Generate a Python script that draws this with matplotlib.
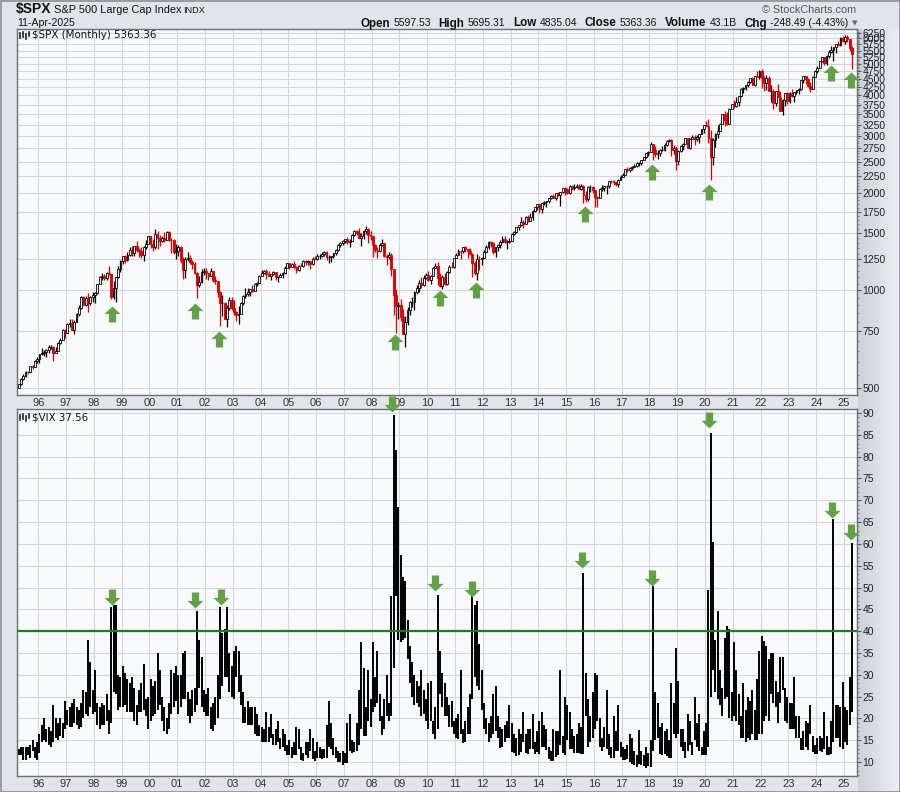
import numpy as np
import pandas as pd
import matplotlib
matplotlib.use("Agg")
import matplotlib.pyplot as plt
from matplotlib.path import Path
from matplotlib.lines import Line2D
from matplotlib.patches import Rectangle
from matplotlib.colors import to_rgb
from matplotlib.ticker import FixedLocator, NullFormatter, FixedFormatter

plt.rcParams["font.family"] = ["Liberation Sans", "DejaVu Sans"]

# ---------------- DATA ----------------
months = pd.period_range("1995-04", "2025-04", freq="M")

spx_first_open = 500.7
spx_close = [
    514.7, 533.4, 544.8, 562.1, 561.9, 584.4, 581.5, 605.4, 615.9,
    636.0, 640.4, 645.5, 654.2, 669.1, 670.6, 639.9, 652.0, 687.3, 705.3, 757.0, 740.7,
    786.2, 790.8, 757.1, 801.3, 848.3, 885.1, 954.3, 899.5, 947.3, 914.6, 955.4, 970.4,
    980.3, 1049.3, 1101.8, 1111.8, 1090.8, 1133.8, 1120.7, 957.3, 1017.0, 1098.7, 1163.6, 1229.2,
    1279.6, 1238.3, 1286.4, 1335.2, 1301.8, 1372.7, 1328.7, 1320.4, 1282.7, 1362.9, 1388.9, 1469.3,
    1394.5, 1366.4, 1498.6, 1452.4, 1420.6, 1454.6, 1430.8, 1517.7, 1436.5, 1429.4, 1315.2, 1320.3,
    1366.0, 1239.9, 1160.3, 1249.5, 1255.8, 1224.4, 1211.2, 1133.6, 1040.9, 1059.8, 1139.5, 1148.1,
    1130.2, 1106.7, 1147.4, 1076.9, 1067.1, 989.8, 911.6, 916.1, 815.3, 885.8, 936.3, 879.8,
    855.7, 841.2, 848.2, 916.9, 963.6, 974.5, 990.3, 1008.0, 996.0, 1050.7, 1058.2, 1111.9,
    1131.1, 1144.9, 1126.2, 1107.3, 1120.7, 1140.8, 1101.7, 1104.2, 1114.6, 1130.2, 1173.8, 1211.9,
    1181.3, 1203.6, 1180.6, 1156.9, 1191.5, 1191.3, 1234.2, 1220.3, 1228.8, 1207.0, 1249.5, 1248.3,
    1280.1, 1280.7, 1294.9, 1310.6, 1270.1, 1270.2, 1276.7, 1303.8, 1335.9, 1377.9, 1400.6, 1418.3,
    1438.2, 1406.8, 1420.9, 1482.4, 1530.6, 1503.4, 1455.3, 1474.0, 1526.8, 1549.4, 1481.1, 1468.4,
    1378.6, 1330.6, 1322.7, 1385.6, 1400.4, 1280.0, 1267.4, 1282.8, 1166.4, 968.8, 896.2, 903.3,
    825.9, 735.1, 797.9, 872.8, 919.1, 919.3, 987.5, 1020.6, 1057.1, 1036.2, 1095.6, 1115.1,
    1073.9, 1104.5, 1169.4, 1186.7, 1089.4, 1030.7, 1101.6, 1049.3, 1141.2, 1183.3, 1180.6, 1257.6,
    1286.1, 1327.2, 1325.8, 1363.6, 1345.2, 1320.6, 1292.3, 1219.0, 1131.4, 1253.3, 1247.0, 1257.6,
    1312.4, 1365.7, 1408.5, 1397.9, 1310.3, 1362.2, 1379.3, 1406.6, 1440.7, 1412.2, 1416.2, 1426.2,
    1498.1, 1514.7, 1569.2, 1597.6, 1630.7, 1606.3, 1685.7, 1633.0, 1681.6, 1756.5, 1805.8, 1848.4,
    1782.6, 1859.5, 1872.3, 1883.9, 1923.6, 1960.2, 1930.7, 2003.4, 1972.3, 2018.1, 2067.6, 2058.9,
    1995.0, 2104.5, 2067.9, 2085.5, 2107.4, 2063.1, 2103.8, 1972.2, 1920.0, 2079.4, 2080.4, 2043.9,
    1940.2, 1932.2, 2059.7, 2065.3, 2096.9, 2098.9, 2173.6, 2171.0, 2168.3, 2126.2, 2199.0, 2238.8,
    2278.9, 2363.6, 2362.7, 2384.2, 2411.8, 2423.4, 2470.3, 2471.7, 2519.4, 2575.3, 2647.6, 2673.6,
    2823.8, 2713.8, 2640.9, 2648.1, 2705.3, 2718.4, 2816.3, 2901.5, 2914.0, 2711.7, 2760.2, 2506.9,
    2704.1, 2784.5, 2834.4, 2945.8, 2752.1, 2941.8, 2980.4, 2926.5, 2976.7, 3037.6, 3141.0, 3230.8,
    3225.5, 2954.2, 2584.6, 2912.4, 3044.3, 3100.3, 3271.1, 3500.3, 3363.0, 3270.0, 3621.6, 3756.1,
    3714.2, 3811.2, 3972.9, 4181.2, 4204.1, 4297.5, 4395.3, 4522.7, 4307.5, 4605.4, 4567.0, 4766.2,
    4515.6, 4373.9, 4530.4, 4131.9, 4132.2, 3785.4, 4130.3, 3955.0, 3585.6, 3872.0, 4080.1, 3839.5,
    4076.6, 3970.2, 4109.3, 4169.5, 4179.8, 4450.4, 4589.0, 4507.7, 4288.1, 4193.8, 4567.8, 4769.8,
    4845.7, 5096.3, 5254.4, 5035.7, 5277.5, 5460.5, 5522.3, 5648.4, 5762.5, 5705.5, 6032.4, 5881.6,
    6040.5, 5954.5, 5611.9, 5363.36,
]
spx_high = [
    515.5, 535.0, 551.1, 563.8, 565.6, 586.3, 587.4, 608.0, 622.9,
    638.5, 664.2, 656.7, 657.9, 678.5, 680.3, 672.7, 671.0, 690.9, 714.1, 762.3, 761.8,
    794.7, 817.7, 815.0, 812.9, 851.9, 898.7, 961.6, 960.3, 961.0, 983.1, 964.6, 986.3,
    987.0, 1050.1, 1105.7, 1130.5, 1124.0, 1138.7, 1190.6, 1121.2, 1066.1, 1103.8, 1193.2, 1244.9,
    1280.4, 1283.3, 1316.6, 1362.8, 1375.9, 1375.0, 1420.3, 1353.0, 1361.0, 1373.2, 1427.1, 1473.1,
    1478.0, 1445.6, 1552.9, 1527.2, 1481.5, 1474.6, 1517.3, 1525.2, 1530.1, 1448.1, 1438.5, 1389.9,
    1383.4, 1376.4, 1268.0, 1269.3, 1316.0, 1286.6, 1239.8, 1220.2, 1144.0, 1110.6, 1163.4, 1173.0,
    1176.6, 1130.2, 1173.0, 1147.8, 1106.6, 1070.7, 994.5, 965.0, 924.0, 900.1, 954.3, 954.3,
    935.1, 864.6, 895.9, 924.2, 965.4, 1015.3, 1015.4, 1011.0, 1040.3, 1053.8, 1063.7, 1112.6,
    1155.4, 1159.0, 1163.2, 1150.6, 1122.7, 1146.2, 1140.8, 1109.7, 1131.5, 1142.1, 1188.5, 1217.3,
    1217.9, 1212.4, 1229.1, 1191.9, 1199.6, 1219.6, 1245.2, 1245.9, 1243.1, 1233.3, 1270.6, 1275.8,
    1294.9, 1297.6, 1310.9, 1326.7, 1326.7, 1284.7, 1280.7, 1306.7, 1340.3, 1389.5, 1407.9, 1431.8,
    1441.6, 1461.6, 1438.9, 1498.0, 1535.6, 1540.6, 1555.9, 1503.9, 1538.7, 1576.1, 1555.1, 1523.6,
    1471.8, 1396.0, 1359.7, 1397.0, 1440.2, 1404.1, 1292.2, 1313.2, 1303.0, 1167.0, 1007.5, 918.9,
    943.9, 875.0, 833.0, 888.7, 930.2, 956.2, 996.7, 1039.5, 1080.2, 1101.4, 1113.7, 1130.4,
    1150.5, 1112.4, 1180.7, 1219.8, 1223.6, 1131.2, 1120.0, 1129.2, 1150.3, 1196.1, 1227.1, 1262.6,
    1302.7, 1344.1, 1332.3, 1364.6, 1370.6, 1345.2, 1356.5, 1307.4, 1229.3, 1292.7, 1277.6, 1269.4,
    1333.5, 1378.0, 1419.2, 1422.4, 1415.3, 1363.5, 1391.7, 1426.7, 1474.5, 1471.0, 1434.3, 1448.0,
    1509.9, 1530.9, 1570.3, 1597.6, 1687.2, 1654.2, 1698.8, 1709.7, 1730.0, 1775.2, 1813.6, 1849.4,
    1850.8, 1867.9, 1884.0, 1891.3, 1924.0, 1968.2, 1991.4, 2005.0, 2019.3, 2018.2, 2075.8, 2093.6,
    2064.4, 2119.6, 2117.5, 2125.9, 2134.7, 2129.9, 2132.8, 2112.7, 2020.9, 2094.3, 2116.5, 2104.3,
    2038.2, 1963.0, 2072.2, 2111.1, 2103.5, 2120.6, 2177.1, 2193.8, 2187.9, 2169.6, 2214.1, 2277.5,
    2301.0, 2371.5, 2401.0, 2398.2, 2418.7, 2453.8, 2484.0, 2490.9, 2519.4, 2583.0, 2657.7, 2695.0,
    2872.9, 2836.0, 2801.9, 2717.5, 2742.1, 2791.5, 2848.0, 2916.5, 2940.9, 2939.9, 2815.2, 2800.2,
    2709.0, 2813.5, 2860.3, 2949.5, 2954.1, 2964.2, 3028.0, 3013.6, 3022.0, 3050.1, 3154.3, 3247.9,
    3337.8, 3393.5, 3136.7, 2954.9, 3068.7, 3233.1, 3280.0, 3514.8, 3588.1, 3549.9, 3646.0, 3760.2,
    3870.9, 3950.4, 3994.4, 4218.8, 4238.0, 4302.4, 4430.0, 4537.4, 4545.9, 4608.1, 4743.8, 4808.9,
    4818.6, 4595.3, 4637.3, 4593.5, 4307.7, 4177.5, 4140.2, 4325.3, 4119.3, 3905.4, 4080.1, 4101.0,
    4094.2, 4195.4, 4110.8, 4170.1, 4231.1, 4458.5, 4607.1, 4574.1, 4541.3, 4393.6, 4587.6, 4793.3,
    4931.1, 5111.1, 5264.9, 5264.0, 5341.9, 5523.6, 5669.7, 5651.6, 5767.4, 5878.5, 6044.2, 6100.0,
    6128.2, 6147.4, 5986.1, 5695.31,
]
spx_low = [
    499.6, 510.3, 528.6, 540.0, 553.0, 559.7, 572.7, 580.6, 597.3,
    597.3, 633.7, 627.6, 624.1, 643.4, 658.8, 605.9, 639.7, 649.4, 684.7, 702.3, 714.6,
    737.0, 773.4, 756.1, 733.5, 797.8, 837.0, 879.1, 899.0, 896.5, 855.3, 904.4, 922.7,
    912.8, 975.0, 1045.4, 1076.7, 1074.4, 1074.4, 1114.4, 939.9, 939.5, 923.3, 1089.0, 1136.9,
    1205.5, 1211.9, 1232.9, 1282.1, 1281.5, 1281.4, 1311.8, 1268.7, 1263.0, 1233.7, 1345.0, 1387.4,
    1350.1, 1325.1, 1346.6, 1339.4, 1373.9, 1415.0, 1415.0, 1427.6, 1419.4, 1305.8, 1294.9, 1254.1,
    1274.6, 1215.4, 1081.2, 1091.9, 1231.1, 1203.0, 1165.5, 1124.9, 944.8, 1026.8, 1054.3, 1114.9,
    1081.7, 1074.4, 1106.7, 1063.5, 1049.0, 952.9, 775.7, 833.4, 815.3, 768.6, 872.0, 869.5,
    840.3, 806.3, 788.9, 847.9, 902.8, 948.6, 962.1, 960.8, 990.4, 995.0, 1031.2, 1053.4,
    1105.1, 1124.4, 1087.2, 1105.3, 1076.3, 1113.3, 1078.8, 1060.7, 1101.3, 1090.2, 1127.6, 1173.8,
    1163.8, 1180.8, 1163.7, 1136.2, 1146.2, 1188.3, 1183.6, 1201.1, 1201.1, 1168.2, 1201.1, 1246.6,
    1245.7, 1253.6, 1268.4, 1280.7, 1245.3, 1219.3, 1224.5, 1261.3, 1290.9, 1327.1, 1361.0, 1385.9,
    1404.0, 1389.4, 1364.0, 1416.4, 1476.7, 1484.2, 1454.3, 1370.6, 1439.3, 1489.6, 1406.1, 1435.7,
    1270.0, 1316.8, 1257.0, 1318.2, 1373.1, 1272.0, 1200.4, 1247.5, 1106.4, 839.8, 741.0, 815.7,
    804.3, 734.5, 666.8, 783.3, 842.6, 888.9, 869.3, 978.5, 992.0, 1020.2, 1029.4, 1085.9,
    1071.6, 1044.5, 1105.4, 1170.7, 1040.8, 1028.3, 1010.9, 1039.7, 1041.3, 1131.9, 1173.0, 1173.0,
    1262.2, 1294.3, 1249.1, 1305.5, 1311.8, 1258.1, 1282.9, 1101.5, 1114.2, 1074.8, 1158.7, 1202.4,
    1258.9, 1312.4, 1340.0, 1357.4, 1292.0, 1266.7, 1325.4, 1354.7, 1396.6, 1403.3, 1343.4, 1398.1,
    1426.2, 1485.0, 1501.5, 1536.0, 1581.3, 1560.3, 1604.6, 1627.5, 1633.4, 1646.5, 1746.2, 1768.0,
    1737.9, 1737.9, 1834.4, 1814.4, 1859.8, 1916.0, 1930.7, 1904.8, 1964.0, 1820.7, 2001.0, 1972.6,
    1988.1, 1980.9, 2039.7, 2048.4, 2067.9, 2056.3, 2044.0, 1867.0, 1871.9, 1893.7, 2019.4, 1993.3,
    1812.3, 1810.1, 1937.1, 2033.8, 2025.9, 1991.7, 2074.0, 2147.6, 2119.1, 2097.8, 2083.8, 2187.4,
    2245.1, 2271.7, 2322.3, 2329.0, 2352.7, 2405.7, 2407.7, 2417.4, 2446.6, 2520.4, 2557.4, 2605.5,
    2682.4, 2532.7, 2585.9, 2553.8, 2594.6, 2692.0, 2699.0, 2796.3, 2864.1, 2603.5, 2631.1, 2346.6,
    2444.0, 2681.8, 2722.3, 2848.6, 2750.5, 2728.8, 2952.2, 2822.1, 2891.9, 2855.9, 3050.7, 3070.3,
    3214.6, 2855.8, 2191.9, 2447.5, 2766.6, 2965.7, 3115.0, 3284.5, 3209.5, 3233.9, 3279.7, 3633.4,
    3662.7, 3694.1, 3723.3, 3955.5, 4056.9, 4164.4, 4233.1, 4367.7, 4305.9, 4278.9, 4560.0, 4495.1,
    4222.6, 4114.7, 4157.9, 4124.3, 3810.3, 3636.9, 3721.6, 3954.5, 3584.1, 3491.6, 3698.2, 3764.5,
    3794.3, 3943.1, 3808.9, 4049.1, 4048.3, 4166.0, 4385.1, 4335.3, 4238.6, 4103.8, 4197.7, 4546.5,
    4682.1, 4853.4, 5056.8, 4953.6, 4967.2, 5234.3, 5391.0, 5119.3, 5402.6, 5674.0, 5696.5, 5832.3,
    5773.3, 5837.7, 5504.7, 4835.04,
]

vix_high = [
    13.0, 13.5, 13.5, 13.5, 13.5, 14.0, 15.0, 13.5, 14.5,
    16.5, 18.5, 20.0, 17.5, 18.0, 17.0, 23.0, 20.0, 19.0, 20.0, 19.0, 24.0,
    22.0, 22.5, 23.5, 24.5, 22.5, 22.0, 23.5, 26.5, 26.0, 38.0, 33.0, 26.5,
    31.0, 23.5, 22.5, 23.5, 23.0, 25.5, 22.0, 45.5, 46.0, 46.0, 30.0, 29.5,
    32.0, 30.5, 29.0, 28.0, 29.5, 27.0, 23.0, 26.5, 28.0, 32.5, 24.5, 25.0,
    29.0, 27.5, 28.5, 35.0, 31.0, 25.0, 22.5, 20.0, 23.5, 31.0, 30.5, 32.0,
    30.0, 30.0, 35.0, 35.5, 26.0, 24.5, 26.5, 27.0, 44.5, 38.0, 34.0, 26.5,
    25.5, 27.0, 22.5, 23.5, 25.0, 30.0, 45.5, 39.5, 40.5, 45.5, 35.0, 32.0,
    35.5, 36.5, 35.5, 30.0, 26.0, 22.5, 24.0, 22.5, 22.5, 22.5, 21.0, 18.5,
    18.0, 17.5, 21.5, 18.0, 21.0, 16.5, 17.5, 19.5, 15.5, 17.5, 16.5, 14.0,
    15.0, 13.5, 14.5, 18.0, 17.5, 13.5, 12.0, 14.5, 14.5, 17.5, 15.5, 12.5,
    14.5, 13.5, 13.0, 13.0, 18.5, 24.0, 19.0, 15.5, 13.5, 12.5, 12.0, 12.5,
    12.0, 19.0, 21.0, 15.0, 14.5, 19.0, 26.5, 37.5, 31.5, 22.5, 31.0, 24.5,
    37.5, 29.5, 35.5, 25.5, 20.5, 24.5, 30.0, 23.5, 48.0, 89.5, 81.5, 68.5,
    57.5, 52.5, 51.5, 42.5, 36.5, 33.0, 30.0, 28.5, 27.5, 31.0, 26.5, 24.5,
    28.0, 28.5, 19.5, 22.5, 48.2, 35.5, 30.5, 28.0, 25.0, 23.0, 24.0, 19.5,
    20.0, 21.0, 31.0, 17.5, 19.5, 22.5, 25.5, 48.0, 46.0, 46.9, 37.0, 31.0,
    23.5, 20.0, 19.0, 20.5, 25.5, 27.5, 20.5, 18.0, 17.5, 18.5, 19.5, 23.0,
    19.0, 16.5, 15.5, 17.5, 16.5, 21.5, 16.5, 17.5, 17.5, 21.0, 14.5, 17.0,
    19.5, 21.5, 18.5, 17.5, 13.5, 12.5, 17.5, 17.0, 17.0, 31.0, 16.0, 25.0,
    23.0, 21.5, 17.5, 16.0, 16.5, 19.0, 18.0, 53.3, 30.5, 24.5, 20.5, 26.0,
    30.5, 30.0, 20.0, 15.5, 18.0, 26.5, 16.5, 13.5, 20.5, 17.0, 23.0, 14.5,
    13.5, 13.0, 14.0, 16.5, 15.5, 12.5, 11.5, 17.3, 12.5, 11.5, 13.5, 12.0,
    15.0, 50.3, 26.0, 23.5, 18.0, 19.0, 17.0, 17.5, 15.0, 28.0, 23.5, 36.2,
    28.5, 17.5, 17.5, 14.5, 21.0, 19.5, 14.5, 24.8, 19.0, 21.0, 13.5, 17.0,
    19.0, 49.5, 85.5, 60.5, 38.0, 44.5, 31.0, 27.0, 38.5, 41.2, 40.5, 26.0,
    37.5, 31.2, 25.5, 20.5, 28.0, 22.0, 25.0, 24.0, 26.5, 22.0, 29.0, 35.5,
    38.9, 37.8, 36.5, 33.5, 35.0, 35.0, 28.5, 26.0, 34.0, 34.0, 27.0, 25.0,
    23.5, 23.5, 29.5, 20.5, 20.5, 15.5, 17.0, 19.5, 19.0, 23.0, 16.0, 14.0,
    15.5, 16.0, 15.5, 21.5, 16.0, 13.5, 19.5, 65.7, 23.0, 23.0, 22.5, 28.3,
    22.5, 22.0, 29.5, 60.1,
]
vix_low = [
    11.5, 11.5, 10.5, 10.5, 11.5, 11.0, 12.5, 11.0, 10.4,
    12.0, 14.5, 15.0, 14.5, 14.0, 13.5, 14.5, 15.5, 15.0, 16.0, 15.5, 17.5,
    18.5, 18.0, 18.0, 19.0, 18.5, 17.5, 18.0, 20.0, 21.0, 20.5, 22.5, 21.0,
    21.5, 18.5, 17.5, 18.5, 18.5, 19.5, 16.5, 19.0, 26.0, 25.5, 22.0, 22.5,
    22.5, 23.0, 21.5, 21.5, 21.5, 19.5, 18.5, 21.5, 21.5, 22.0, 20.5, 17.5,
    19.5, 20.5, 21.0, 22.0, 23.0, 19.5, 17.0, 16.5, 17.5, 21.0, 22.5, 24.0,
    21.0, 22.5, 24.5, 24.5, 20.5, 19.0, 20.5, 21.5, 23.0, 27.0, 22.5, 21.5,
    20.5, 20.5, 17.5, 17.0, 18.5, 20.0, 24.5, 27.5, 29.5, 29.5, 26.0, 25.0,
    24.5, 29.5, 26.0, 23.0, 19.0, 19.0, 18.5, 18.5, 18.5, 16.5, 16.0, 16.0,
    14.5, 14.5, 14.5, 14.5, 15.5, 14.0, 14.0, 14.5, 13.0, 13.5, 12.5, 11.5,
    11.5, 11.0, 11.5, 11.5, 13.0, 10.5, 10.2, 11.5, 11.0, 12.5, 10.8, 10.3,
    11.0, 11.0, 10.8, 11.0, 11.0, 13.5, 13.0, 11.5, 11.0, 10.0, 9.9, 9.4,
    9.8, 9.7, 12.5, 12.0, 12.2, 12.5, 14.0, 17.5, 16.0, 16.0, 19.5, 18.0,
    21.5, 22.5, 23.5, 19.5, 16.3, 17.5, 20.5, 19.5, 20.5, 31.5, 48.0, 38.0,
    37.5, 38.0, 38.5, 33.5, 28.0, 25.0, 23.0, 23.5, 22.5, 20.5, 21.0, 19.5,
    17.5, 19.5, 16.5, 15.2, 17.5, 25.5, 22.5, 20.5, 20.5, 18.0, 18.0, 16.5,
    15.5, 15.2, 16.5, 14.3, 14.5, 16.5, 16.5, 24.5, 29.5, 27.5, 26.5, 22.0,
    17.5, 16.5, 14.5, 15.5, 16.5, 17.0, 15.5, 13.3, 13.5, 14.5, 15.5, 15.5,
    12.3, 12.0, 11.3, 11.5, 12.3, 14.5, 12.0, 11.8, 13.0, 13.0, 11.8, 12.2,
    11.8, 13.5, 13.5, 12.8, 10.7, 10.3, 10.3, 11.2, 11.5, 14.0, 12.0, 11.5,
    15.0, 13.0, 13.0, 12.0, 12.0, 12.0, 11.8, 11.8, 20.5, 13.5, 14.5, 15.5,
    17.5, 19.5, 13.5, 12.5, 13.5, 13.0, 11.5, 11.0, 11.0, 12.5, 12.5, 11.2,
    10.5, 10.5, 10.6, 10.0, 9.5, 9.4, 8.8, 9.5, 9.2, 9.0, 8.6, 9.0,
    8.9, 12.5, 15.0, 15.5, 11.8, 11.5, 11.8, 11.3, 11.0, 11.0, 16.5, 15.5,
    16.5, 13.5, 12.5, 11.0, 12.5, 14.0, 11.7, 15.0, 13.5, 12.5, 11.5, 11.7,
    11.7, 13.5, 25.0, 31.0, 26.0, 24.5, 23.0, 20.5, 24.5, 25.0, 20.0, 19.5,
    20.5, 19.5, 18.5, 15.5, 15.5, 14.5, 15.5, 15.0, 16.5, 15.0, 15.0, 16.5,
    16.5, 19.5, 20.5, 19.5, 25.5, 23.5, 22.5, 19.0, 23.5, 26.5, 19.5, 19.0,
    17.5, 17.5, 17.5, 15.5, 15.5, 12.7, 12.7, 13.5, 12.7, 16.5, 12.3, 11.8,
    11.8, 12.5, 12.2, 13.0, 11.5, 11.6, 11.9, 14.5, 15.5, 15.5, 13.5, 13.0,
    14.5, 14.0, 18.5, 21.5,
]

spx_arrow_dates = [1998.66, 2001.65, 2002.50, 2008.84, 2010.46, 2011.76, 2015.68, 2018.09, 2020.14, 2024.53, 2025.25]
spx_arrow_levels = [846, 865, 708, 693, 948, 1004, 1722, 2321, 2013, 4689, 4459]
vix_arrow_dates = [1998.66, 2001.65, 2002.58, 2008.72, 2010.28, 2011.61, 2015.57, 2018.09, 2020.14, 2024.56, 2025.25]
vix_arrow_levels = [47.8, 47.1, 47.8, 92.0, 51.0, 49.6, 56.3, 52.2, 88.4, 67.8, 62.7]
vix_alert_level = 40

spx_ticks = [500, 750, 1000, 1250, 1500, 1750, 2000, 2250, 2500, 2750, 3000, 3250, 3500,
             3750, 4000, 4250, 4500, 4750, 5000, 5250, 5500, 5750, 6000, 6250]
vix_ticks = [10, 15, 20, 25, 30, 35, 40, 45, 50, 55, 60, 65, 70, 75, 80, 85, 90]
year_ticks = list(range(1996, 2026))
year_labels = ["%02d" % (y % 100) for y in year_ticks]

# ---------------- FIGURE ----------------
W, H = 900, 792
fig = plt.figure(figsize=(9, 7.92), dpi=100)

def fx(px):
    return px / W

def fy(py):
    return 1 - py / H

# background
bg = fig.add_axes([0, 0, 1, 1], zorder=-10)
img = np.ones((H, W, 3)) * np.array(to_rgb("#e1e4ea"))
g = np.linspace(0, 1, W - 858)
c0, c1 = np.array(to_rgb("#cdd1d9")), np.array(to_rgb("#eceef3"))
img[29:, 858:, :] = (c0 + (c1 - c0) * g[:, None])[None, :, :]
bg.imshow(img, extent=[0, W, H, 0], aspect="auto", interpolation="nearest")
bg.add_patch(Rectangle((0.5, 0.5), W - 1, H - 1, fill=False, ec="#8a8e96", lw=1.2))
bg.set_xlim(0, W)
bg.set_ylim(H, 0)
bg.axis("off")

ax1 = fig.add_axes([fx(17), fy(395), (857 - 17) / W, (395 - 29) / H])
ax2 = fig.add_axes([fx(17), fy(776), (857 - 17) / W, (776 - 409) / H])

x = np.array(months.year + (months.month - 0.5) / 12.0)
closes = np.array(spx_close)
opens = np.array([spx_first_open] + spx_close[:-1])
highs = np.array(spx_high)
lows = np.array(spx_low)
up = closes >= opens
RED = "#dd0000"

for ax in (ax1, ax2):
    ax.set_facecolor("#f8f9fb")
    ax.set_xlim(1995.233, 2025.471)
    ax.xaxis.set_major_locator(FixedLocator(year_ticks))
    ax.xaxis.set_major_formatter(FixedFormatter(year_labels))
    ax.tick_params(axis="x", length=0, pad=2.5, labelsize=8, labelcolor="#333333")
    ax.yaxis.tick_right()
    ax.tick_params(axis="y", which="major", length=3, width=0.8, color="#555555",
                   pad=1, labelsize=7.5, labelcolor="#222222")
    ax.tick_params(axis="y", which="minor", length=1.5, width=0.6, color="#777777")
    ax.grid(True, which="major", color="#d2d5dc", lw=0.8)
    ax.set_axisbelow(True)
    for s in ax.spines.values():
        s.set_color("#6b6f77")
        s.set_linewidth(1.0)

# SPX candles
ax1.set_yscale("log")
ax1.set_ylim(475.7, 6414)
ax1.vlines(x, lows, highs, colors=np.where(up, "black", RED), lw=0.9, zorder=2)
ax1.bar(x, np.abs(closes - opens), bottom=np.minimum(opens, closes), width=0.066,
        color=np.where(up, "white", RED), edgecolor=np.where(up, "black", RED),
        linewidth=0.6, zorder=3)
ax1.yaxis.set_major_locator(FixedLocator(spx_ticks))
ax1.yaxis.set_major_formatter(FixedFormatter([str(t) for t in spx_ticks]))
ax1.yaxis.set_minor_locator(FixedLocator(list(range(500, 6400, 50))))
ax1.yaxis.set_minor_formatter(NullFormatter())

# VIX bars
ax2.set_ylim(6.79, 90.92)
ax2.vlines(x, vix_low, vix_high, colors="black", lw=1.4, zorder=2)
ax2.axhline(vix_alert_level, color="#1f7d1f", lw=1.6, zorder=4)
ax2.yaxis.set_major_locator(FixedLocator(vix_ticks))
ax2.yaxis.set_major_formatter(FixedFormatter([str(t) for t in vix_ticks]))
ax2.yaxis.set_minor_locator(FixedLocator(list(range(7, 91))))
ax2.yaxis.set_minor_formatter(NullFormatter())

# arrows
up_path = Path([(0, 1), (1, 0.05), (0.45, 0.05), (0.45, -1), (-0.45, -1), (-0.45, 0.05), (-1, 0.05), (0, 1)],
               [Path.MOVETO] + [Path.LINETO] * 6 + [Path.CLOSEPOLY])
down_path = Path([(vx, -vy) for vx, vy in up_path.vertices], up_path.codes)
GREEN = "#62a145"
ax1.plot(spx_arrow_dates, spx_arrow_levels, ls="none", marker=up_path, ms=11.5,
         mfc=GREEN, mec="none", zorder=6, clip_on=False)
ax2.plot(vix_arrow_dates, vix_arrow_levels, ls="none", marker=down_path, ms=11.5,
         mfc=GREEN, mec="none", zorder=6, clip_on=False)

# ---------------- TEXT ----------------
fig.text(fx(16), fy(13.5), "$SPX", fontsize=10, fontweight="bold", color="#111111", va="baseline")
fig.text(fx(54), fy(13), "S&P 500 Large Cap Index", fontsize=7.9, color="#111111", va="baseline")
fig.text(fx(183), fy(13), "INDX", fontsize=6.6, color="#111111", va="baseline")
fig.text(fx(17), fy(26), "11-Apr-2025", fontsize=7.6, color="#111111", va="baseline")
fig.text(fx(856), fy(12.7), "\u00a9 StockCharts.com", fontsize=7.8, color="#555555",
         va="baseline", ha="right")

renderer = fig.canvas.get_renderer()
segs = [("Open", True, 3), ("5597.53", False, 8), ("High", True, 3), ("5695.31", False, 8),
        ("Low", True, 3), ("4835.04", False, 8), ("Close", True, 3), ("5363.36", False, 8),
        ("Volume", True, 3), ("43.1B", False, 8), ("Chg", True, 3), ("-248.49 (-4.43%)", False, 4)]
items = []
total = 0
for s, b, gap in segs:
    t = fig.text(0, fy(26.5), s, fontsize=8.4 if b else 7.5, fontweight="bold" if b else "normal",
                 color="#111111", va="baseline")
    w = t.get_window_extent(renderer).width
    items.append((t, w, gap))
    total += w + gap
tri = fig.text(fx(858), fy(26), "\u25be", fontsize=8, color="#5b6b8c", va="baseline", ha="right",
               family=["DejaVu Sans"])
tw = tri.get_window_extent(renderer).width
xcur = 858 - tw - total
for t, w, gap in items:
    t.set_x(fx(xcur))
    xcur += w + gap

# panel legends
def icon(x0, ybase):
    for dx, y1, y2 in [(0, 6, 1), (3, 7, 2), (6, 5, 0), (9, 7, 3)]:
        fig.add_artist(Line2D([fx(x0 + dx)] * 2, [fy(ybase - y1), fy(ybase - y2)],
                              transform=fig.transFigure, color="#222222", lw=1.2))

icon(20, 39)
fig.text(fx(32), fy(38.5), "$SPX (Monthly) 5363.36", fontsize=7.4, family=["DejaVu Sans"],
         color="#111111", va="baseline")
icon(20, 421)
fig.text(fx(32), fy(420.5), "$VIX 37.56", fontsize=7.4, family=["DejaVu Sans"],
         color="#111111", va="baseline")

fig.savefig("out.png", dpi=100)
